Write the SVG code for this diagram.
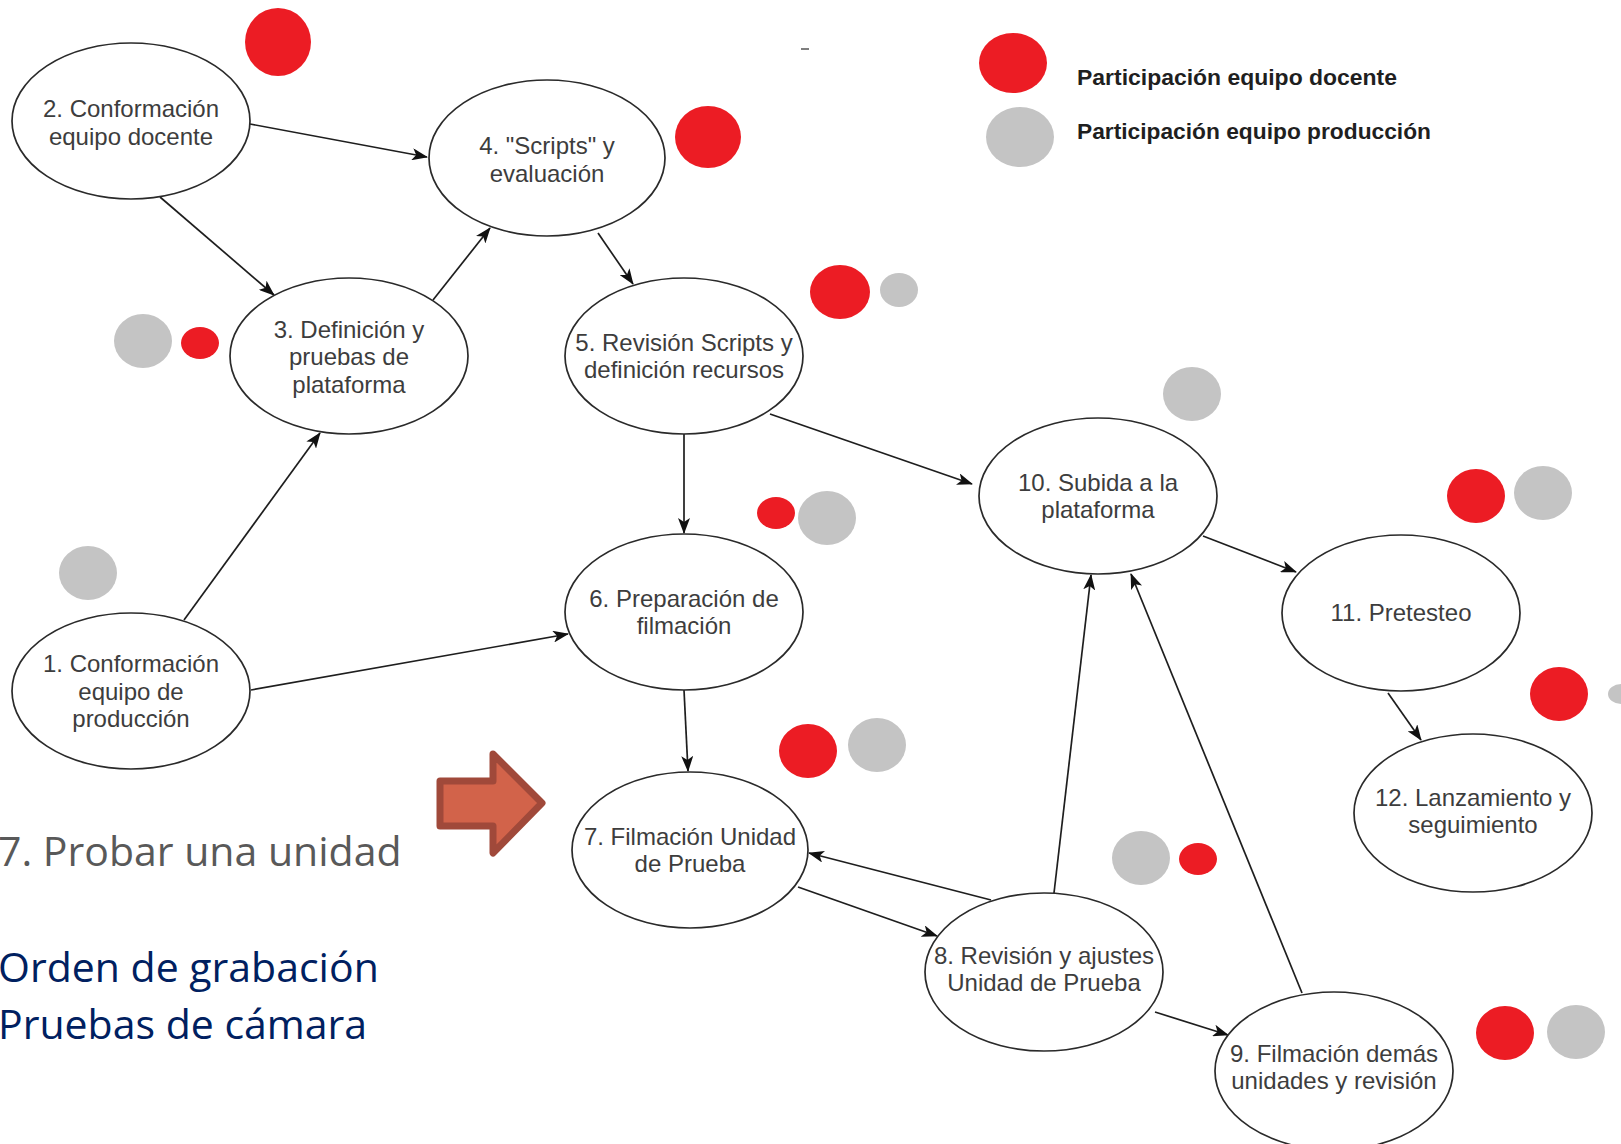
<svg xmlns="http://www.w3.org/2000/svg" width="1621" height="1144" viewBox="0 0 1621 1144">
  <style>
    .node ellipse { fill: #ffffff; stroke: #2a2a2a; stroke-width: 1.7; }
    .node text { font-family: "Liberation Sans", Arial, sans-serif; font-size: 24px; fill: #3d3d3d; text-anchor: middle; }
    .conn line { stroke: #1e1e1e; stroke-width: 1.7; marker-end: url(#ah); }
    .red { fill: #ec1c24; }
    .gray { fill: #c4c4c4; }
    .legend { font-family: "Liberation Sans", Arial, sans-serif; font-weight: bold; font-size: 22px; fill: #1f1f1f; }
    .big { font-family: "Open Sans", "Noto Sans", sans-serif; font-size: 41px; }
  </style>
  <defs>
    <marker id="ah" markerUnits="userSpaceOnUse" markerWidth="16" markerHeight="12" viewBox="0 0 16 12" refX="15" refY="6" orient="auto">
      <path d="M0,0 L16,6 L0,12 L4,6 Z" fill="#111111"/>
    </marker>
  </defs>
  <rect x="0" y="0" width="1621" height="1144" fill="#ffffff"/>

  <!-- connectors -->
  <g id="connectors" class="conn">
    <line x1="250" y1="124" x2="427" y2="157"/>
    <line x1="160" y1="197" x2="274" y2="295"/>
    <line x1="433" y1="300" x2="490" y2="228"/>
    <line x1="598" y1="233" x2="633" y2="284"/>
    <line x1="184" y1="620" x2="320" y2="433"/>
    <line x1="684" y1="434" x2="684" y2="533"/>
    <line x1="770" y1="414" x2="972" y2="484"/>
    <line x1="251" y1="690" x2="568" y2="634"/>
    <line x1="684" y1="690" x2="688" y2="771"/>
    <line x1="798" y1="887" x2="937" y2="936"/>
    <line x1="991" y1="900" x2="809" y2="853"/>
    <line x1="1054" y1="893" x2="1091" y2="575"/>
    <line x1="1302" y1="993" x2="1131" y2="574"/>
    <line x1="1155" y1="1012" x2="1228" y2="1035"/>
    <line x1="1203" y1="536" x2="1296" y2="572"/>
    <line x1="1388" y1="693" x2="1421" y2="740"/>
  </g>

  <!-- nodes -->
  <g id="n2" class="node">
    <ellipse cx="131" cy="121" rx="119" ry="78"/>
    <text x="131" y="117">2. Conformación</text>
    <text x="131" y="145">equipo docente</text>
  </g>
  <g id="n4" class="node">
    <ellipse cx="547" cy="158" rx="118" ry="78"/>
    <text x="547" y="154">4. "Scripts" y</text>
    <text x="547" y="182">evaluación</text>
  </g>
  <g id="n3" class="node">
    <ellipse cx="349" cy="356" rx="119" ry="78"/>
    <text x="349" y="338">3. Definición y</text>
    <text x="349" y="365">pruebas de</text>
    <text x="349" y="393">plataforma</text>
  </g>
  <g id="n5" class="node">
    <ellipse cx="684" cy="356" rx="119" ry="78"/>
    <text x="684" y="351">5. Revisión Scripts y</text>
    <text x="684" y="378">definición recursos</text>
  </g>
  <g id="n1" class="node">
    <ellipse cx="131" cy="691" rx="119" ry="78"/>
    <text x="131" y="672">1. Conformación</text>
    <text x="131" y="700">equipo de</text>
    <text x="131" y="727">producción</text>
  </g>
  <g id="n6" class="node">
    <ellipse cx="684" cy="612" rx="119" ry="78"/>
    <text x="684" y="607">6. Preparación de</text>
    <text x="684" y="634">filmación</text>
  </g>
  <g id="n7" class="node">
    <ellipse cx="690" cy="850" rx="118" ry="78"/>
    <text x="690" y="845">7. Filmación Unidad</text>
    <text x="690" y="872">de Prueba</text>
  </g>
  <g id="n10" class="node">
    <ellipse cx="1098" cy="496" rx="119" ry="78"/>
    <text x="1098" y="491">10. Subida a la</text>
    <text x="1098" y="518">plataforma</text>
  </g>
  <g id="n11" class="node">
    <ellipse cx="1401" cy="613" rx="119" ry="78"/>
    <text x="1401" y="621">11. Pretesteo</text>
  </g>
  <g id="n12" class="node">
    <ellipse cx="1473" cy="813" rx="119" ry="79"/>
    <text x="1473" y="806">12. Lanzamiento y</text>
    <text x="1473" y="833">seguimiento</text>
  </g>
  <g id="n8" class="node">
    <ellipse cx="1044" cy="972" rx="119" ry="79"/>
    <text x="1044" y="964">8. Revisión y ajustes</text>
    <text x="1044" y="991">Unidad de Prueba</text>
  </g>
  <g id="n9" class="node">
    <ellipse cx="1334" cy="1071" rx="119" ry="79"/>
    <text x="1334" y="1062">9. Filmación demás</text>
    <text x="1334" y="1089">unidades y revisión</text>
  </g>

  <!-- participation dots -->
  <g id="dots">
    <ellipse class="red" cx="278" cy="42" rx="33" ry="34"/>
    <ellipse class="red" cx="708" cy="137" rx="33" ry="31"/>
    <ellipse class="red" cx="840" cy="292" rx="30" ry="27"/>
    <ellipse class="gray" cx="899" cy="290" rx="19" ry="17"/>
    <ellipse class="gray" cx="143" cy="341" rx="29" ry="27"/>
    <ellipse class="red" cx="200" cy="343" rx="19" ry="16"/>
    <ellipse class="gray" cx="1192" cy="394" rx="29" ry="27"/>
    <ellipse class="red" cx="776" cy="513" rx="19" ry="16"/>
    <ellipse class="gray" cx="827" cy="518" rx="29" ry="27"/>
    <ellipse class="gray" cx="88" cy="573" rx="29" ry="27"/>
    <ellipse class="red" cx="1476" cy="496" rx="29" ry="27"/>
    <ellipse class="gray" cx="1543" cy="493" rx="29" ry="27"/>
    <ellipse class="red" cx="1559" cy="694" rx="29" ry="27"/>
    <ellipse class="gray" cx="1621" cy="694" rx="13" ry="10"/>
    <ellipse class="red" cx="808" cy="751" rx="29" ry="27"/>
    <ellipse class="gray" cx="877" cy="745" rx="29" ry="27"/>
    <ellipse class="gray" cx="1141" cy="858" rx="29" ry="27"/>
    <ellipse class="red" cx="1198" cy="859" rx="19" ry="16"/>
    <ellipse class="red" cx="1505" cy="1033" rx="29" ry="27"/>
    <ellipse class="gray" cx="1576" cy="1032" rx="29" ry="27"/>
  </g>

  <!-- legend -->
  <g id="legend">
    <ellipse class="red" cx="1013" cy="63" rx="34" ry="30"/>
    <ellipse class="gray" cx="1020" cy="137" rx="34" ry="30"/>
    <text class="legend" x="1077" y="85" textLength="320" lengthAdjust="spacingAndGlyphs">Participación equipo docente</text>
    <text class="legend" x="1077" y="139" textLength="354" lengthAdjust="spacingAndGlyphs">Participación equipo producción</text>
  </g>

  <line x1="801" y1="49" x2="809" y2="49" stroke="#555555" stroke-width="1.5"/>

  <!-- block arrow -->
  <g id="pointer">
    <path d="M440,781 L493,781 L493,754 L542,803 L493,853 L493,826 L440,826 Z" fill="#d2634a" stroke="#a0493a" stroke-width="7" stroke-linejoin="round"/>
  </g>

  <!-- side notes -->
  <g id="notes">
    <text class="big" x="-2" y="866" fill="#595959">7. Probar una unidad</text>
    <text class="big" x="-2" y="982" fill="#002060">Orden de grabación</text>
    <text class="big" x="-2" y="1039" fill="#002060">Pruebas de cámara</text>
  </g>
</svg>
